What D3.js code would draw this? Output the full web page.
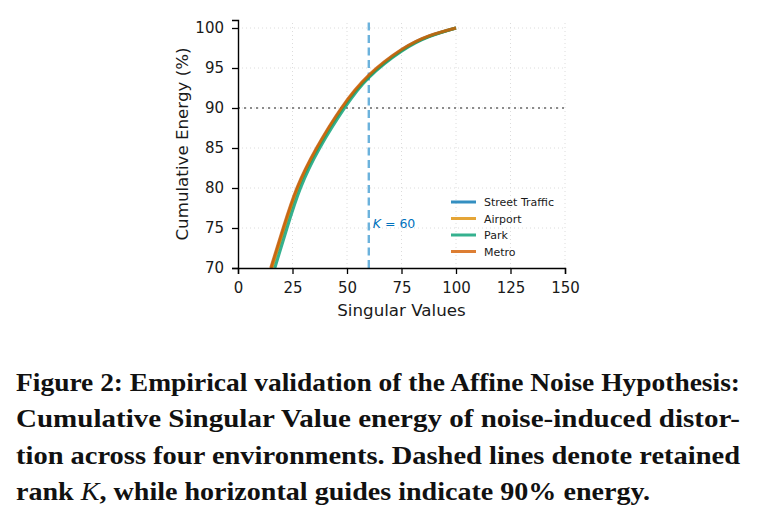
<!DOCTYPE html>
<html>
<head>
	<script src="https://d3js.org/d3.v7.min.js"></script>
	<title>Figure 2</title>
	<style>
		body { margin: 0; background: #fff; }
		svg { display: block; }
	</style>
</head>
<body>
	<svg id="chart" width="757" height="512"></svg>
	<script>
		// values (x = singular value index, y = cumulative energy %)
		var seriesNames = ["Street Traffic", "Airport", "Park", "Metro"];
		var seriesColors = ["#0173b2", "#de8f05", "#029e73", "#d55e00"];

		var streetX = [15.3, 21.0, 27.3, 36.3, 47.7, 60, 75, 87.5, 100];
		var streetY = [70, 75, 80, 85, 90, 94.0, 97.25, 98.97, 100];
		var airportX = [15.6, 21.3, 27.6, 36.6, 48.0, 60, 75, 87.5, 100];
		var airportY = [70, 75, 80, 85, 90, 93.95, 97.2, 98.95, 100];
		var parkX = [16.9, 22.5, 28.7, 37.5, 48.9, 60, 75, 87.5, 100];
		var parkY = [70, 75, 80, 85, 90, 93.8, 97.1, 98.9, 100];
		var metroX = [15.0, 20.7, 27.0, 36.0, 47.4, 60, 75, 87.5, 100];
		var metroY = [70, 75, 80, 85, 90, 94.1, 97.3, 99.0, 100];

		var xTicks = [0, 25, 50, 75, 100, 125, 150];
		var yTicks = [70, 75, 80, 85, 90, 95, 100];
		var rankK = 60;
		var energyGuide = 90;

		var captionLines = [
			"Figure 2: Empirical validation of the Affine Noise Hypothesis:",
			"Cumulative Singular Value energy of noise-induced distor-",
			"tion across four environments. Dashed lines denote retained",
			["rank ", "K", ", while horizontal guides indicate 90% energy."]
		];

		var svg = d3.select("#chart");
		var m = {left: 238, right: 565, top: 20, bottom: 268};

		var x = d3.scaleLinear().domain([0, 150]).range([m.left, m.right]);
		var y = d3.scaleLinear().domain([70, 101]).range([m.bottom, m.top]);

		var plot = svg.append("g");

		// grid
		plot.append("g").selectAll("line").data(xTicks.slice(1)).enter().append("line")
			.attr("x1", d => x(d)).attr("x2", d => x(d))
			.attr("y1", m.bottom).attr("y2", m.top)
			.attr("stroke", "#d8d8d8").attr("stroke-width", 0.9)
			.attr("stroke-dasharray", "1,3");
		plot.append("g").selectAll("line").data(yTicks.slice(1)).enter().append("line")
			.attr("x1", m.left).attr("x2", m.right)
			.attr("y1", d => y(d)).attr("y2", d => y(d))
			.attr("stroke", "#d8d8d8").attr("stroke-width", 0.9)
			.attr("stroke-dasharray", "1,3");

		// 90% guide
		plot.append("line")
			.attr("x1", m.left).attr("x2", m.right)
			.attr("y1", y(energyGuide)).attr("y2", y(energyGuide))
			.attr("stroke", "#8c8c8c").attr("stroke-width", 2)
			.attr("stroke-dasharray", "2,4");

		// K line
		plot.append("line")
			.attr("x1", x(rankK)).attr("x2", x(rankK))
			.attr("y1", m.bottom).attr("y2", m.top)
			.attr("stroke", "#6cb2dc").attr("stroke-width", 2.4)
			.attr("stroke-dasharray", "8,4.5");

		var kLabel = plot.append("text")
			.attr("x", x(rankK) + 4).attr("y", y(75.0))
			.attr("fill", "#0072bd")
			.attr("font-family", "DejaVu Sans").attr("font-size", 12.5);
		kLabel.append("tspan").attr("font-style", "italic").text("K");
		kLabel.append("tspan").text(" = 60");

		// curves
		var allX = [streetX, airportX, parkX, metroX];
		var allY = [streetY, airportY, parkY, metroY];
		var line = d3.line().x(d => x(d[0])).y(d => y(d[1])).curve(d3.curveNatural);

		seriesNames.forEach(function(name, i) {
			var pts = allX[i].map((v, j) => [v, allY[i][j]]);
			plot.append("path")
				.attr("d", line(pts))
				.attr("fill", "none")
				.attr("stroke", seriesColors[i])
				.attr("stroke-opacity", 0.8)
				.attr("stroke-width", 3);
		});

		// axes
		var xAxis = plot.append("g").attr("transform", "translate(0," + m.bottom + ")")
			.call(d3.axisBottom(x).tickValues(xTicks).tickSize(6).tickPadding(8));
		var yAxis = plot.append("g").attr("transform", "translate(" + m.left + ",0)")
			.call(d3.axisLeft(y).tickValues(yTicks).tickSize(6).tickPadding(8));
		[xAxis, yAxis].forEach(function(a) {
			a.attr("font-size", 15).attr("font-family", "DejaVu Sans");
			a.select(".domain").attr("stroke", "#000").attr("stroke-width", 1.4);
			a.selectAll(".tick line").attr("stroke", "#000").attr("stroke-width", 1.3);
			a.selectAll(".tick text").attr("fill", "#1a1a1a");
		});

		plot.append("text")
			.attr("x", (m.left + m.right) / 2).attr("y", 316)
			.attr("text-anchor", "middle")
			.attr("font-family", "DejaVu Sans").attr("font-size", 16.7).attr("fill", "#1a1a1a")
			.text("Singular Values");
		plot.append("text")
			.attr("transform", "translate(188," + ((m.top + m.bottom) / 2) + ") rotate(-90)")
			.attr("text-anchor", "middle")
			.attr("font-family", "DejaVu Sans").attr("font-size", 16.7).attr("fill", "#1a1a1a")
			.text("Cumulative Energy (%)");

		// legend
		var legend = plot.append("g").attr("transform", "translate(451,202)");
		seriesNames.forEach(function(name, i) {
			var row = legend.append("g").attr("transform", "translate(0," + (i * 16.5) + ")");
			row.append("line").attr("x1", 0).attr("x2", 25).attr("y1", 0).attr("y2", 0)
				.attr("stroke", seriesColors[i]).attr("stroke-opacity", 0.8).attr("stroke-width", 3);
			row.append("text").attr("x", 33).attr("y", 4)
				.attr("font-family", "DejaVu Sans").attr("font-size", 11).attr("fill", "#1a1a1a")
				.text(name);
		});

		// caption
		var cap = svg.append("g")
			.attr("font-family", "Liberation Serif").attr("font-weight", "bold")
			.attr("font-size", 25).attr("fill", "#111");
		captionLines.forEach(function(l, i) {
			var t = cap.append("text").attr("x", 16).attr("y", 391 + i * 36.3);
			if (Array.isArray(l)) {
				t.append("tspan").text(l[0]);
				t.append("tspan").attr("font-style", "italic").attr("font-weight", "normal").text(l[1]);
				t.append("tspan").text(l[2]);
				t.attr("textLength", 634).attr("lengthAdjust", "spacingAndGlyphs");
			} else {
				t.text(l).attr("textLength", 724).attr("lengthAdjust", "spacingAndGlyphs");
			}
		});
	</script>
</body>
</html>
